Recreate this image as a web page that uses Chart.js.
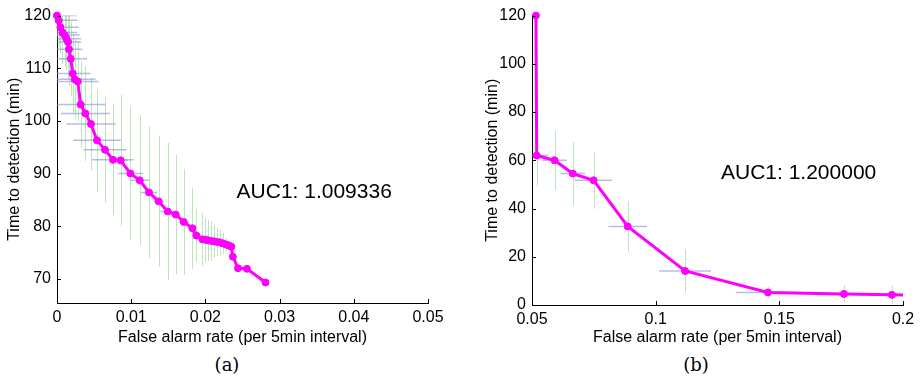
<!DOCTYPE html>
<html>
<head>
<meta charset="utf-8">
<script src="https://cdn.jsdelivr.net/npm/chart.js@4.4.1/dist/chart.umd.min.js"></script>
<style>
    body { margin: 0; background: #fff; width: 921px; height: 380px; position: relative; overflow: hidden; }
    .box { position: absolute; top: 0; height: 350px; }
    #boxA { left: 0; width: 460px; }
    #boxB { left: 460px; width: 461px; }
    .cap { position: absolute; top: 354px; width: 60px; text-align: center;
           font-family: "DejaVu Serif", "Liberation Serif", serif; font-size: 18px; color: #000; }
</style>
</head>
<body>
<div class="box" id="boxA"><canvas id="chartA"></canvas></div>
<div class="box" id="boxB"><canvas id="chartB"></canvas></div>
<div class="cap" style="left:197px">(a)</div>
<div class="cap" style="left:666px">(b)</div>

<script>
// (a) false alarm rate vs time to detection
var rateA = [0.0000, 0.00023, 0.00046, 0.00073, 0.00104, 0.00127, 0.00148, 0.00162, 0.00185, 0.00212,
    0.00239, 0.00279, 0.00319, 0.00383, 0.00458, 0.00539, 0.00647, 0.00755, 0.00858, 0.00989,
    0.01115, 0.0124, 0.01371, 0.01492, 0.0160, 0.01708, 0.01825, 0.01879, 0.0196,
    0.0200, 0.0204, 0.0208, 0.0212, 0.0216, 0.0220, 0.0224, 0.0228, 0.0232, 0.0235,
    0.0237, 0.0244, 0.0256, 0.0281];
var timeA = [120.0, 119.1, 117.8, 116.8, 116.3, 115.6, 115.0, 113.6, 111.8, 109.0,
    107.9, 107.5, 103.1, 101.4, 99.4, 96.3, 94.5, 92.6, 92.5, 90.0,
    88.7, 86.4, 84.7, 82.8, 82.2, 80.8, 79.6, 78.2, 77.5,
    77.4, 77.3, 77.2, 77.1, 77.0, 76.9, 76.7, 76.5, 76.3, 76.1,
    74.2, 72.0, 71.9, 69.3];
var timeErrA = [4, 5, 5, 6, 6, 6, 7, 7, 7, 7.5,
    7.5, 7.6, 8.2, 9, 8.8, 9.7, 10, 10.5, 12.4, 12.6,
    12.4, 12.5, 12.4, 13, 11.3, 10.1, 7.7, 5, 5,
    4.2, 3.9, 3.7, 3.1, 2.7, 2.4, 2.0, 1.3, 0.8, 0.4,
    0, 0, 0, 0];
var rateErrA = [0.0027, 0.0025, 0.0025, 0.002, 0.002, 0.002, 0.0018, 0.0018, 0.0022, 0.0024,
    0.0028, 0.0028, 0.0033, 0.0033, 0.0033, 0.0032, 0.0029, 0.0028, 0.001, 0.0017,
    0.0013, 0.0011, 0.0007, 0.001, 0.0006, 0.0007, 0.0005, 0.0004, 0.0004,
    0.0003, 0.0003, 0.0003, 0.0003, 0.0003, 0.0002, 0.0002, 0.0002, 0.0002, 0.0002,
    0, 0, 0, 0];
var xTicksA = [0, 0.01, 0.02, 0.03, 0.04, 0.05];
var yTicksA = [70, 80, 90, 100, 110, 120];
var aucA = "AUC1: 1.009336";

// (b)
var rateB = [0.0516, 0.0519, 0.0591, 0.0665, 0.0749, 0.0887, 0.1119, 0.1454, 0.1761, 0.1955, 0.215];
var timeB = [120, 62.0, 60.0, 54.5, 51.7, 32.6, 14.1, 5.2, 4.6, 4.2, 3.8];
var timeErrB = [0, 12.5, 12.3, 13, 11.8, 10.4, 9, 2.4, 3.6, 3.7, 0];
var rateErrB = [0, 0.0047, 0.005, 0.005, 0.0075, 0.0078, 0.0105, 0.013, 0, 0, 0];
var xTicksB = [0.05, 0.1, 0.15, 0.2];
var yTicksB = [0, 20, 40, 60, 80, 100, 120];
var aucB = "AUC1: 1.200000";

var xTitle = "False alarm rate (per 5min interval)";
var yTitle = "Time to detection (min)";
var fontFam = "'Liberation Sans', Arial, Helvetica, sans-serif";

// error bars, drawn under the line
var errorBars = {
    id: "errorBars",
    beforeDatasetsDraw: function (chart, args, opts) {
        var ctx = chart.ctx;
        var xs = chart.scales.x, ys = chart.scales.y, a = chart.chartArea;
        ctx.save();
        ctx.beginPath();
        ctx.rect(a.left, a.top, a.right - a.left, a.bottom - a.top);
        ctx.clip();
        ctx.lineWidth = 1;
        ctx.strokeStyle = "rgba(130, 210, 130, 0.55)";
        for (var i = 0; i < opts.x.length; i++) {
            if (!opts.yErr[i]) continue;
            var px = Math.round(xs.getPixelForValue(opts.x[i])) + 0.5;
            ctx.beginPath();
            ctx.moveTo(px, ys.getPixelForValue(opts.y[i] - opts.yErr[i]));
            ctx.lineTo(px, ys.getPixelForValue(opts.y[i] + opts.yErr[i]));
            ctx.stroke();
        }
        ctx.lineWidth = 1.5;
        ctx.strokeStyle = "rgba(140, 140, 215, 0.6)";
        for (var j = 0; j < opts.x.length; j++) {
            if (!opts.xErr[j]) continue;
            var py = ys.getPixelForValue(opts.y[j]);
            ctx.beginPath();
            ctx.moveTo(xs.getPixelForValue(opts.x[j] - opts.xErr[j]), py);
            ctx.lineTo(xs.getPixelForValue(opts.x[j] + opts.xErr[j]), py);
            ctx.stroke();
        }
        ctx.restore();
    },
    afterDraw: function (chart, args, opts) {
        // inward tick marks, matlab style
        var ctx = chart.ctx;
        var xs = chart.scales.x, ys = chart.scales.y, a = chart.chartArea;
        ctx.save();
        ctx.strokeStyle = "#000";
        ctx.lineWidth = 1;
        xs.ticks.forEach(function (t) {
            var px = Math.round(xs.getPixelForValue(t.value)) + 0.5;
            ctx.beginPath();
            ctx.moveTo(px, a.bottom);
            ctx.lineTo(px, a.bottom - 4);
            ctx.stroke();
        });
        ys.ticks.forEach(function (t) {
            var py = Math.round(ys.getPixelForValue(t.value)) + 0.5;
            ctx.beginPath();
            ctx.moveTo(a.left, py);
            ctx.lineTo(a.left + 4, py);
            ctx.stroke();
        });
        // AUC label
        ctx.fillStyle = "#000";
        ctx.font = "21px " + fontFam;
        ctx.textAlign = "left";
        ctx.textBaseline = "middle";
        ctx.fillText(opts.label, xs.getPixelForValue(opts.labelAt[0]), ys.getPixelForValue(opts.labelAt[1]));
        ctx.restore();
    },
};

function makeChart(canvas, cfg) {
    var tickFont = { family: fontFam, size: 16 };
    return new Chart(canvas, {
        type: "line",
        data: {
            datasets: [
                {
                    data: cfg.x.map(function (v, i) { return { x: v, y: cfg.y[i] }; }),
                    borderColor: "#ff00ff",
                    backgroundColor: "#ff00ff",
                    borderWidth: 3,
                    pointRadius: 3.5,
                    pointBorderWidth: 1,
                    pointHoverRadius: 3.5,
                    tension: 0,
                    clip: cfg.clip,
                },
            ],
        },
        options: {
            responsive: true,
            maintainAspectRatio: false,
            animation: false,
            events: [],
            layout: { padding: cfg.padding },
            plugins: {
                legend: { display: false },
                tooltip: { enabled: false },
                errorBars: {
                    x: cfg.x, y: cfg.y, xErr: cfg.xErr, yErr: cfg.yErr,
                    label: cfg.label, labelAt: cfg.labelAt,
                },
            },
            scales: {
                x: {
                    type: "linear",
                    min: cfg.xMin,
                    max: cfg.xMax,
                    afterBuildTicks: function (s) { s.ticks = cfg.xTicks.map(function (v) { return { value: v }; }); },
                    afterFit: function (s) { s.height = cfg.xHeight; },
                    ticks: { font: tickFont, color: "#000", padding: 5, maxRotation: 0, autoSkip: false,
                        callback: function (v) { return String(v); } },
                    grid: { display: false, drawTicks: false },
                    border: { display: true, color: "#000", width: 1 },
                    title: { display: true, text: xTitle, font: tickFont, color: "#000", padding: { top: 0, bottom: 3 } },
                },
                y: {
                    type: "linear",
                    min: cfg.yMin,
                    max: cfg.yMax,
                    afterBuildTicks: function (s) { s.ticks = cfg.yTicks.map(function (v) { return { value: v }; }); },
                    afterFit: function (s) { s.width = cfg.yWidth; },
                    ticks: { font: tickFont, color: "#000", padding: 6, autoSkip: false },
                    grid: { display: false, drawTicks: false },
                    border: { display: true, color: "#000", width: 1 },
                    title: { display: true, text: yTitle, font: tickFont, color: "#000", padding: { top: cfg.yTitlePad, bottom: 0 } },
                },
            },
        },
        plugins: [errorBars],
    });
}

makeChart(document.getElementById("chartA"), {
    x: rateA, y: timeA, xErr: rateErrA, yErr: timeErrA,
    xMin: 0, xMax: 0.05, yMin: 65.4, yMax: 120,
    xTicks: xTicksA, yTicks: yTicksA,
    label: aucA, labelAt: [0.0242, 86.5],
    padding: { top: 13, right: 32, left: 0, bottom: 0 },
    xHeight: 47, yWidth: 57, yTitlePad: 5,
    clip: false,
});

makeChart(document.getElementById("chartB"), {
    x: rateB, y: timeB, xErr: rateErrB, yErr: timeErrB,
    xMin: 0.05, xMax: 0.2, yMin: 0, yMax: 120,
    xTicks: xTicksB, yTicks: yTicksB,
    label: aucB, labelAt: [0.1264, 54.7],
    padding: { top: 13, right: 18, left: 0, bottom: 0 },
    xHeight: 45, yWidth: 72, yTitlePad: 23,
    clip: { left: 6, top: 8, right: 0, bottom: 6 },
});
</script>
</body>
</html>
